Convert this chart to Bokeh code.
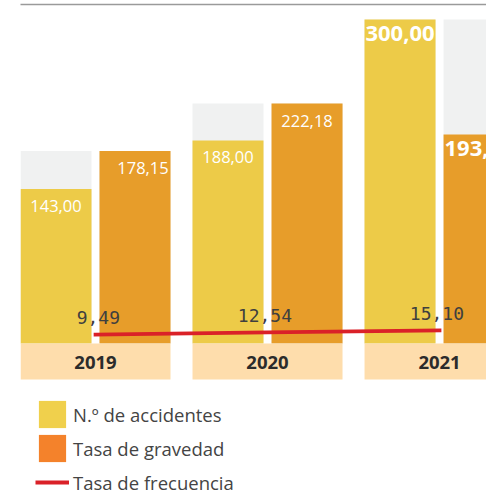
import numpy as np
from bokeh.plotting import figure
from bokeh.models import ColumnDataSource, Range1d, FixedTicker, Legend, LegendItem
from bokeh.transform import dodge
from bokeh.core.properties import value
from bokeh.embed import file_html
from bokeh.resources import INLINE

# ---------------- data ----------------
years = ["2019", "2020", "2021"]
accidentes = [143.00, 188.00, 300.00]          # N.º de accidentes
gravedad = [178.15, 222.18, 193.50]            # Tasa de gravedad
frecuencia = [9.49, 12.54, 15.10]              # Tasa de frecuencia
series_names = ["N.º de accidentes", "Tasa de gravedad", "Tasa de frecuencia"]
emphasis = [False, False, True]                # last year shown with big bold labels


def es(v):
    return f"{v:.2f}".replace(".", ",")


# ---------------- style / layout ----------------
YELLOW = "#EDCB48"
ORANGE = "#E79D2A"
GRAY = "#F0F1F1"
PEACH = "#FEDDAC"
RED = "#DA2128"
LEG_YELLOW = "#F0D04C"
LEG_ORANGE = "#F4822B"
TXT = "#444444"

OFF = 0.2297        # dodge of each bar from the group centre (group units)
BAR_W = 0.4128
GROUP_W = 0.872
BAND = 33.3         # depth of the year band (value units)
LBL_DX = 0.1424     # right edge of the frequency labels from group centre

n = len(years)
xs = list(range(n))
src = ColumnDataSource(dict(
    x=xs,
    year=years,
    acc=accidentes,
    grav=gravedad,
    frec=frecuencia,
    bg=list(np.maximum(accidentes, gravedad)),
    acc_lbl=[es(v) for v in accidentes],
    grav_lbl=[es(v) for v in gravedad],
    frec_lbl=[es(v) for v in frecuencia],
    lbl_size=["22px" if e else "16.5px" for e in emphasis],
    lbl_style=["bold" if e else "normal" for e in emphasis],
    lbl_yoff=[6 if e else 11 for e in emphasis],
    grav_nudge=[8 if i == 0 else 0 for i in xs],
))

p = figure(width=486, height=494, output_backend="svg", toolbar_location=None,
           x_range=Range1d(-0.436, 2.273), y_range=Range1d(-139.8, 313.9),
           x_axis_location="above", y_axis_location=None,
           min_border_left=20, min_border_right=0, min_border_top=4, min_border_bottom=0)
p.extra_y_ranges = {"frec": Range1d(-203.7, 449.6)}

p.grid.visible = False
p.outline_line_color = None
p.background_fill_color = "white"
p.border_fill_color = "white"
ax = p.xaxis[0]
ax.ticker = FixedTicker(ticks=[])
ax.major_tick_line_color = None
ax.minor_tick_line_color = None
ax.major_label_text_font_size = "0px"
ax.major_label_standoff = 0
ax.axis_line_color = "#9a9a9a"
ax.axis_line_width = 1.5

# background (max of pair) bars
for off in (-OFF, OFF):
    p.vbar(x=dodge("x", off), top="bg", bottom=0, width=BAR_W, source=src,
           fill_color=GRAY, line_color=None)

# bars
p.vbar(x=dodge("x", -OFF), top="acc", bottom=0, width=BAR_W, source=src,
       fill_color=YELLOW, line_color=None)
p.vbar(x=dodge("x", OFF), top="grav", bottom=0, width=BAR_W, source=src,
       fill_color=ORANGE, line_color=None)

# year band
p.vbar(x="x", top=0, bottom=-BAND, width=GROUP_W, source=src,
       fill_color=PEACH, line_color=None)
p.text(x="x", y=-BAND / 2, text="year", source=src, text_align="center",
       text_baseline="middle", y_offset=1, text_font=value("Open Sans"),
       text_font_style="bold", text_font_size="18.5px", text_color="#2b2b2b")

# bar labels
p.text(x=dodge("x", -OFF), y="acc", text="acc_lbl", source=src, text_align="center",
       text_baseline="top", y_offset="lbl_yoff", text_font=value("Open Sans"),
       text_font_style="lbl_style", text_font_size="lbl_size", text_color="white")
p.text(x=dodge("x", OFF), y="grav", text="grav_lbl", source=src, text_align="center",
       text_baseline="top", y_offset="lbl_yoff", x_offset="grav_nudge",
       text_font=value("Open Sans"), text_font_style="lbl_style",
       text_font_size="lbl_size", text_color="white")

# frequency line
p.line(x="x", y="frec", source=src, y_range_name="frec", line_color=RED,
       line_width=3.7, line_cap="square")
p.text(x=dodge("x", LBL_DX), y="frec", text="frec_lbl", source=src, y_range_name="frec",
       text_align="right", text_baseline="alphabetic", y_offset=-17,
       text_font=value("DejaVu Sans Mono"), text_font_size="18px", text_color="#3f3f3f")

# legend (proxy renderers that draw nothing)
nan = [float("nan")]
r1 = p.vbar(x=nan, top=nan, width=1, fill_color=LEG_YELLOW, line_color=None)
r2 = p.vbar(x=nan, top=nan, width=1, fill_color=LEG_ORANGE, line_color=None)
r3 = p.line(x=nan, y=nan, line_color=RED, line_width=4)
legend = Legend(items=[LegendItem(label=series_names[0], renderers=[r1]),
                       LegendItem(label=series_names[1], renderers=[r2]),
                       LegendItem(label=series_names[2], renderers=[r3])],
                location=(15, -5), glyph_width=34, glyph_height=34, label_height=34,
                spacing=0, padding=0, margin=0, label_standoff=4,
                border_line_alpha=0, background_fill_alpha=0,
                label_text_font="Open Sans", label_text_font_size="18.5px",
                label_text_color=TXT)
p.add_layout(legend)

open("out.html", "w").write(file_html(p, INLINE))
